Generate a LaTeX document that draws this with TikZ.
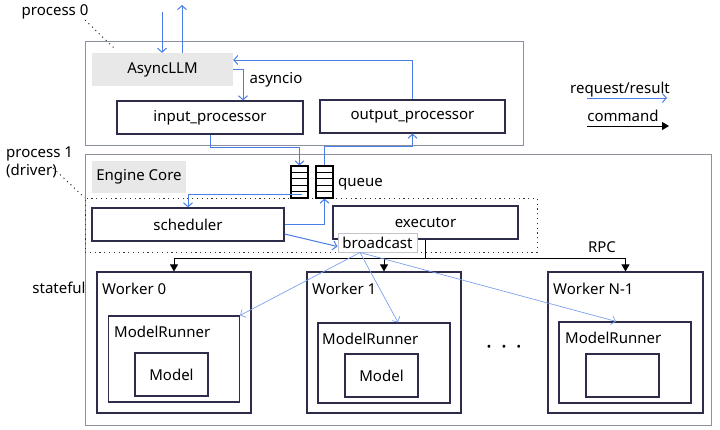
\documentclass[tikz,border=0pt]{standalone}
\usepackage{fontspec}
\setmainfont{Noto Sans}
\usetikzlibrary{arrows.meta,calc}
\definecolor{bl}{RGB}{74,125,230}
\definecolor{lbl}{RGB}{125,160,238}
\definecolor{nv}{RGB}{45,45,75}
\definecolor{pg}{RGB}{140,145,160}
\definecolor{gf}{RGB}{232,232,232}
\definecolor{bg}{RGB}{195,195,200}
\begin{document}
\begin{tikzpicture}[x=1pt,y=-1pt,font=\fontsize{15}{18}\selectfont,
  procbox/.style={draw=pg,line width=0.9pt,inner sep=0pt},
  gbox/.style={fill=gf,inner sep=0pt},
  box/.style={draw=nv,line width=1.2pt,inner sep=0pt,fill=white},
  txt/.style={inner sep=0pt},
  rr/.style={draw=bl,line width=1pt,-{Straight Barb[length=4pt,width=9pt]}},
  thinrr/.style={draw=lbl,line width=0.7pt,-{Straight Barb[length=4pt,width=9pt]}},
  cmd/.style={draw=black,line width=1pt,-{Triangle[length=7pt,width=8pt]}},
  dotl/.style={draw=black!80,line width=0.9pt,dash pattern=on 1.2pt off 3.6pt}]
\useasboundingbox (0,0) rectangle (720,429);
% process boxes
\node[procbox,minimum width=438pt,minimum height=104pt] (p0) at (304,93) {};
\node[procbox,minimum width=626pt,minimum height=271pt] (p1) at (398,289.5) {};
\node[dotl,minimum width=452pt,minimum height=54pt,inner sep=0pt] (core) at (311,225) {};
% process 0
\node[gbox,minimum width=141pt,minimum height=33pt] (async) at (162.5,69.5) {AsyncLLM};
\node[box,minimum width=186pt,minimum height=33pt] (inproc) at (210,117.5) {input\_processor};
\node[box,minimum width=185pt,minimum height=33pt] (outproc) at (412.5,116.5) {output\_processor};
\node[txt] (asyncio) at (276,80) {asyncio};
% process 1
\node[gbox,minimum width=94pt,minimum height=32pt] (engine) at (139,177) {Engine Core};
\node[draw=black,line width=1.1pt,minimum width=17pt,minimum height=32pt,inner sep=0pt] (q1) at (299.5,182) {};
\node[draw=black,line width=1.1pt,minimum width=17pt,minimum height=32pt,inner sep=0pt] (q2) at (324.5,182) {};
\foreach \q in {q1,q2}{
  \foreach \k in {1,...,4}{
    \draw[line width=1.1pt] ($(\q.north west)!\k/5!(\q.south west)$) -- ($(\q.north east)!\k/5!(\q.south east)$);
  }
}
\node[txt] (queue) at (360.5,184) {queue};
\node[box,minimum width=192pt,minimum height=33pt] (sched) at (188,224.5) {scheduler};
\node[box,minimum width=185pt,minimum height=33pt] (exec) at (425.5,222.5) {};
\node[txt] (exectxt) at (425.5,223) {executor};
\node[draw=bg,fill=white,line width=1pt,minimum width=79pt,minimum height=19pt,inner sep=0pt] (bcast) at (377.5,242.5) {broadcast};
\node[txt] (rpc) at (602,247) {RPC};
\node[txt] (stateful) at (59,288) {stateful};
% workers
\node[box,minimum width=154pt,minimum height=141pt] (W0) at (174,342.5) {};
\node[box,minimum width=131pt,minimum height=86pt] (MR0) at (174,359) {};
\node[box,minimum width=73pt,minimum height=43pt] (M0) at (171.5,374.5) {Model};
\node[txt,anchor=west] (W0t) at (102,289) {Worker 0};
\node[txt,anchor=west] (MR0t) at (114,332) {ModelRunner};
\node[box,minimum width=154pt,minimum height=141pt] (W1) at (384,342.5) {};
\node[box,minimum width=132pt,minimum height=80pt] (MR1) at (384,363) {};
\node[box,minimum width=73pt,minimum height=43pt] (M1) at (381.5,375.5) {Model};
\node[txt,anchor=west] (W1t) at (312,289) {Worker 1};
\node[txt,anchor=west] (MR1t) at (322,339) {ModelRunner};
\node[box,minimum width=155pt,minimum height=141pt] (WN) at (625.5,342.5) {};
\node[box,minimum width=132pt,minimum height=81pt] (MRN) at (625,362.5) {};
\node[box,minimum width=73pt,minimum height=43pt] (MN) at (622.5,375.5) {};
\node[txt,anchor=west] (WNt) at (553,289) {Worker N-1};
\node[txt,anchor=west] (MRNt) at (565,338) {ModelRunner};
\node[txt,font=\fontsize{22}{22}\selectfont\bfseries] (dots) at (504,350) {·\hspace{9pt}·\hspace{9pt}·};
% labels
\node[txt] (p0lab) at (55,12) {process 0};
\node[txt,align=left,anchor=north west] (p1lab) at (6,147) {process 1\\(driver)};
\coordinate (p0a) at (85,20);
\coordinate (p0b) at (116,50);
\draw[dotl] (p0a) -- (p0b);
\coordinate (p1a) at (53,168);
\draw[dotl] (p1a) -- (core.north west);
% external request/result
\coordinate (extin) at (162,12);
\coordinate (extout) at (182,5);
\draw[rr] (extin) -- (extin |- async.north);
\draw[rr] (extout |- async.north) -- (extout);
% asyncio
\draw[rr] (async.east) -| ([xshift=33pt]inproc.north);
\draw[rr] (outproc.north) |- ([yshift=9.5pt]async.east);
% to/from queues
\draw[rr] (inproc.south) -- ++(0,13) -| (q1.north);
\draw[rr] (q2.north) -- ++(0,-19) -| (outproc.south);
\draw[rr] ([xshift=2.5pt,yshift=-12pt]q1.center) -| (sched.north);
\draw[rr] (sched.east) -| (q2.south);
\draw[rr] ([yshift=-9.5pt]sched.east) -- ([yshift=-4pt]bcast.west);
% RPC
\coordinate (bus) at (425.5,258);
\draw[line width=1pt] (exec.south) -- (bus);
\draw[cmd] (bus) -| (W0.north);
\draw[cmd] (bus) -| (WN.north);
\draw[cmd] (W1.north |- bus) -- (W1.north);
% broadcast
\coordinate (bsrc) at ([xshift=-17.5pt]bcast.south);
\draw[thinrr] (bsrc) -- (MR0.north east);
\draw[thinrr] (bsrc) -- ([xshift=14pt]MR1.north);
\draw[thinrr] (bsrc) -- ([xshift=-9pt]MRN.north);
% legend
\node[txt] (lg1) at (620,90) {request/result};
\node[txt] (lg2) at (623,116) {command};
\coordinate (lg1a) at (587,98);
\coordinate (lg1b) at (667,98);
\coordinate (lg2a) at (587,126);
\coordinate (lg2b) at (669,126);
\draw[rr] (lg1a) -- (lg1b);
\draw[cmd] (lg2a) -- (lg2b);
\end{tikzpicture}
\end{document}
